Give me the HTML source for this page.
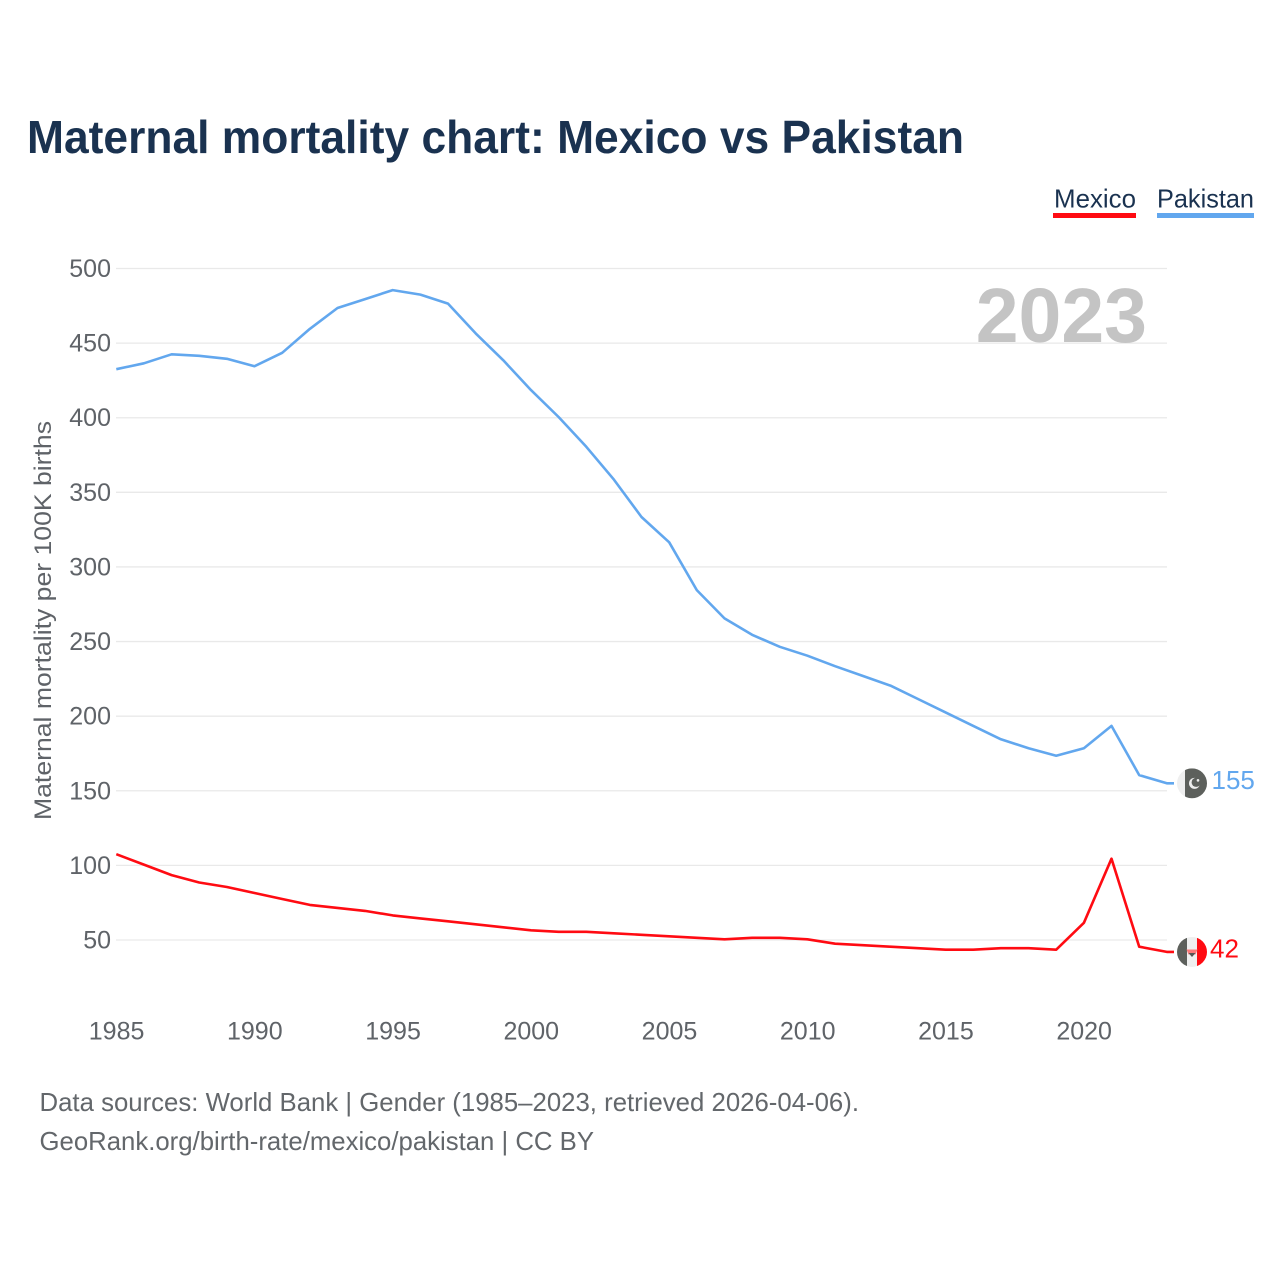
<!DOCTYPE html>
<html lang="en">
<head>
<meta charset="utf-8">
<title>Maternal mortality chart: Mexico vs Pakistan</title>
<style>
html,body{margin:0;padding:0;background:#fff;width:1280px;height:1280px;overflow:hidden}
svg{display:block}
text{font-family:"Liberation Sans",sans-serif}
.tick{font-size:25px;fill:#5f6368}
.foot{font-size:26px;fill:#63676b}
.leg{font-size:26px;fill:#1a3250}
</style>
</head>
<body>
<svg id="chart" xmlns="http://www.w3.org/2000/svg" width="1280" height="1280" viewBox="0 0 1280 1280">
  <rect width="1280" height="1280" fill="#ffffff"/>
  <text x="27" y="153" font-size="46" font-weight="700" fill="#1a3250" textLength="937" lengthAdjust="spacingAndGlyphs">Maternal mortality chart: Mexico vs Pakistan</text>

  <g>
    <g>
      <text class="leg" x="1054" y="207.5" textLength="82" lengthAdjust="spacingAndGlyphs">Mexico</text>
      <rect x="1053" y="213" width="83" height="5" fill="#ff0b12"/>
    </g>
    <g>
      <text class="leg" x="1157" y="207.5" textLength="97" lengthAdjust="spacingAndGlyphs">Pakistan</text>
      <rect x="1157" y="213" width="97" height="5" fill="#62a7ee"/>
    </g>
  </g>

  <g id="grid"></g>
  <g id="yticks"></g>
  <g id="xticks"></g>

  <text x="1147" y="342" text-anchor="end" font-size="77" font-weight="700" fill="#c4c4c4">2023</text>

  <text transform="translate(51,820) rotate(-90)" font-size="24.5" fill="#5f6368" textLength="399" lengthAdjust="spacingAndGlyphs">Maternal mortality per 100K births</text>

  <g id="series"></g>
  <g id="ends"></g>

  <text class="foot" x="39.5" y="1111" textLength="819.5" lengthAdjust="spacingAndGlyphs">Data sources: World Bank | Gender (1985–2023, retrieved 2026-04-06).</text>
  <text class="foot" x="39.5" y="1150" textLength="554.5" lengthAdjust="spacingAndGlyphs">GeoRank.org/birth-rate/mexico/pakistan | CC BY</text>
</svg>
<script>
const years = [1985,1986,1987,1988,1989,1990,1991,1992,1993,1994,1995,1996,1997,1998,1999,2000,2001,2002,2003,2004,2005,2006,2007,2008,2009,2010,2011,2012,2013,2014,2015,2016,2017,2018,2019,2020,2021,2022,2023];
const pakistanValues = [432.5,436.5,442.5,441.5,439.5,434.5,443.5,459.5,473.5,479.5,485.5,482.5,476.5,456.5,438.5,418.5,400.5,380.5,358.5,333.5,316.5,284.5,265.5,254.5,246.5,240.5,233.5,227,220.5,211.5,202.5,193.5,184.5,178.5,173.5,178.5,193.5,160.5,155];
const mexicoValues = [107.5,100.5,93.5,88.5,85.5,81.5,77.5,73.5,71.5,69.5,66.5,64.5,62.5,60.5,58.5,56.5,55.5,55.5,54.5,53.5,52.5,51.5,50.5,51.5,51.5,50.5,47.5,46.5,45.5,44.5,43.5,43.5,44.5,44.5,43.5,61.5,104.5,45.5,42];
const yTickValues = [50,100,150,200,250,300,350,400,450,500];
const xTickValues = [1985,1990,1995,2000,2005,2010,2015,2020];

const NS = 'http://www.w3.org/2000/svg';
const xScale = v => 116.3 + (v - 1985) * (1166.8 - 116.3) / 38;
const yScale = v => 940 - (v - 50) * (940 - 268.5) / 450;
function make(tag, parent, attrs, text) {
  const el = document.createElementNS(NS, tag);
  for (const k in attrs) el.setAttribute(k, attrs[k]);
  if (text !== undefined) el.textContent = text;
  parent.appendChild(el);
  return el;
}
const grid = document.getElementById('grid');
const yticks = document.getElementById('yticks');
const xticks = document.getElementById('xticks');
const seriesG = document.getElementById('series');
const ends = document.getElementById('ends');

yTickValues.forEach(v => {
  const line = make('line', grid, {x1:116, x2:1167, y1:yScale(v), y2:yScale(v), stroke:'#e9e9e9', 'stroke-width':1.3});
  
  
  const label = make('text', yticks, {class:'tick', x:111, y:yScale(v) + 8.5, 'text-anchor':'end'}, String(v));
  
  
});
xTickValues.forEach(v => {
  const label = make('text', xticks, {class:'tick', x:xScale(v) + 0.3, y:1039.5, 'text-anchor':'middle'}, String(v));
  
  
});

function drawLine(values, color, name) {
  const pts = values.map((v, i) => xScale(years[i]).toFixed(1) + ',' + yScale(v).toFixed(1));
  const last = values[values.length - 1];
  pts.push('1174,' + yScale(last).toFixed(1));
  const line = make('polyline', seriesG, {points:pts.join(' '), fill:'none', stroke:color, 'stroke-width':2.6, 'stroke-linejoin':'round'});
  
  
}
drawLine(mexicoValues, '#ff0b12', 'line-mexico');
drawLine(pakistanValues, '#62a7ee', 'line-pakistan');

const defs = make('defs', ends, {});
function drawFlag(value, id, bands, color, name, labelX) {
  const cy = yScale(value), cx = 1192, r = 15;
  const clip = make('clipPath', defs, {id:id});
  make('circle', clip, {cx:cx, cy:cy, r:r});
  const flag = make('g', ends, {'clip-path':'url(#' + id + ')'});
  
  
  bands.forEach(b => make('rect', flag, {x:cx - r + b[0], y:cy - r, width:b[1], height:r * 2, fill:b[2]}));
  if (name === 'pakistan') {
    make('circle', flag, {cx:cx + 2.5, cy:cy, r:5.5, fill:'#eeeeee'});
    make('circle', flag, {cx:cx + 4.2, cy:cy - 1, r:4.6, fill:'#5d605c'});
    make('circle', flag, {cx:cx + 6, cy:cy - 3, r:1.3, fill:'#eeeeee'});
  } else {
    make('path', flag, {d:'M' + (cx - 5.5) + ' ' + (cy - 2.5) + 'h11l-2 5h-7z', fill:'#fb7a7a'});
    make('path', flag, {d:'M' + (cx - 3.5) + ' ' + (cy + 1) + 'h7l-3.5 4z', fill:'#555'});
  }
  const label = make('text', ends, {x:labelX, y:cy + 5.5, 'font-size':26, fill:color}, String(value));
  
  
}
drawFlag(pakistanValues[pakistanValues.length - 1], 'clip-pk', [[0,8,'#efefef'],[8,22,'#5d605c']], '#62a7ee', 'pakistan', 1211.5);
drawFlag(mexicoValues[mexicoValues.length - 1], 'clip-mx', [[0,10,'#5d605c'],[10,10,'#efefef'],[20,10,'#ff0b12']], '#ff0b12', 'mexico', 1210);
</script>
</body>
</html>
